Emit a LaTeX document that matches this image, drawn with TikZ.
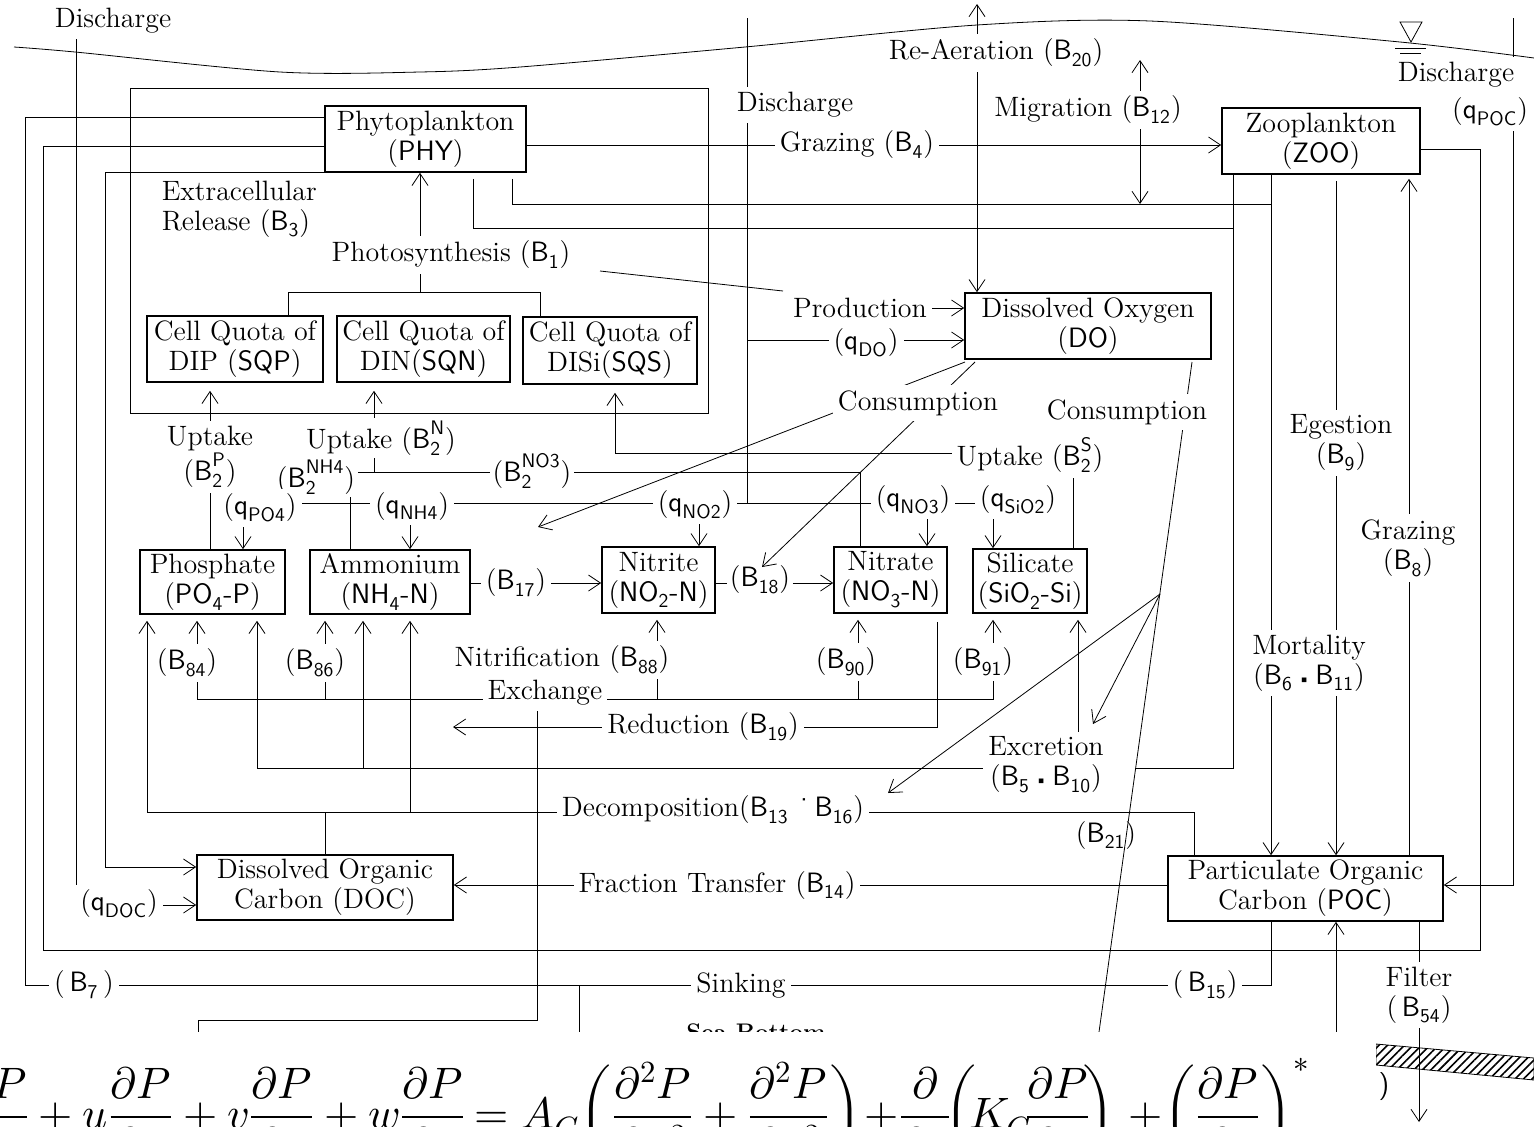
\documentclass[tikz,border=0pt]{standalone}
\usepackage{amsmath}
\usepackage{unicode-math}
\setmathfont{Latin Modern Math}
\usetikzlibrary{arrows.meta,backgrounds,patterns.meta}
\newcommand{\lfs}{\fontsize{14}{15}\selectfont}
\newcommand{\Blab}[1]{(\textsf{B\textsubscript{#1}})}
\newcommand{\Bsup}[2]{($\textsf{B}_{\textsf{#1}}^{\textsf{#2}}$)}
\newcommand{\qlab}[1]{(\textsf{q\textsubscript{#1}})}
\newcommand{\dotb}{\,{\fontsize{8}{8}\selectfont\textbullet}\,}
% name, x1, y1, x2, y2, text
\newcommand{\mkbox}[6]{\node[box, minimum width={(#4-#2)*0.5pt}, minimum height={(#5-#3)*0.5pt}] (#1) at ({(#2+#4)/2},{(#3+#5)/2}) {#6};}
\begin{document}
\begin{tikzpicture}[x=0.5pt,y=-0.5pt, line width=0.8pt,
  every node/.style={font=\lfs},
  box/.style={draw, fill=white, inner sep=0pt, align=center},
  lab/.style={fill=white, inner sep=2.5pt, align=center},
  nolab/.style={inner sep=1pt, align=center},
  eqn/.style={inner sep=0pt, font=\fontsize{22}{26}\selectfont},
  arr/.style={-{Straight Barb[length=6pt,width=8pt]}},
  darr/.style={{Straight Barb[length=6pt,width=8pt]}-{Straight Barb[length=6pt,width=8pt]}}]
\useasboundingbox (0,0) rectangle (1534,1126);

% ---------- boxes ----------
\mkbox{phy}{325}{106}{526}{172}{Phytoplankton\\(\textsf{PHY})}
\mkbox{zoo}{1222}{108}{1420}{174}{Zooplankton\\(\textsf{ZOO})}
\mkbox{sqp}{147}{316}{323}{382}{Cell Quota of\\DIP (\textsf{SQP})}
\mkbox{sqn}{337}{316}{510}{382}{Cell Quota of\\DIN(\textsf{SQN})}
\mkbox{sqs}{523}{317}{697}{384}{Cell Quota of\\DISi(\textsf{SQS})}
\mkbox{do}{965}{293}{1211}{359}{Dissolved Oxygen\\(\textsf{DO})}
\mkbox{po4}{140}{550}{285}{614}{Phosphate\\(\textsf{PO\textsubscript{4}-P})}
\mkbox{nh4}{310}{550}{470}{614}{Ammonium\\(\textsf{NH\textsubscript{4}-N})}
\mkbox{no2}{602}{547}{715}{613}{Nitrite\\(\textsf{NO\textsubscript{2}-N})}
\mkbox{no3}{834}{547}{947}{613}{Nitrate\\(\textsf{NO\textsubscript{3}-N})}
\mkbox{si}{973}{549}{1087}{613}{Silicate\\(\textsf{SiO\textsubscript{2}-Si})}
\mkbox{doc}{197}{855}{453}{920}{Dissolved Organic\\Carbon (DOC)}
\mkbox{poc}{1168}{856}{1443}{921}{Particulate Organic\\Carbon (\textsf{POC})}

% ---------- labels ----------
\node[lab] (disL) at (113,21) {Discharge};
\node[lab] (disM) at (795,105) {Discharge};
\node[lab] (reaer) at (996,53) {Re-Aeration \Blab{20}};
\node[lab] (migr) at (1088,110) {Migration \Blab{12}};
\node[lab] (disR) at (1456,75) {Discharge};
\node[lab] (qpoc) at (1490,112) {\qlab{POC}};
\node[lab] (graz4) at (857,145) {Grazing \Blab{4}};
\node[lab, align=left, anchor=west] (extra) at (156,209) {Extracellular\\Release \Blab{3}};
\node[lab] (photo) at (451,255) {Photosynthesis \Blab{1}};
\node[lab] (prod) at (860,308) {Production};
\node[lab] (qdo) at (866,343) {\qlab{DO}};
\node[lab] (cons1) at (918,403) {Consumption};
\node[lab] (cons2) at (1127,412) {Consumption};
\node[lab] (uptP) at (210,457) {Uptake\\\Bsup{2}{P}};
\node[nolab] (uptN) at (381,438) {Uptake \Bsup{2}{N}};
\node[nolab] (bnh4) at (316,477) {\Bsup{2}{NH4}};
\node[nolab] (bno3) at (532,471) {\Bsup{2}{NO3}};
\node[lab] (uptS) at (1030,455) {Uptake \Bsup{2}{S}};
\node[lab] (qpo4) at (260,508) {\qlab{PO4}};
\node[lab] (qnh4) at (412,506) {\qlab{NH4}};
\node[lab] (qno2) at (695,505) {\qlab{NO2}};
\node[lab] (qno3) at (913,500) {\qlab{NO3}};
\node[lab] (qsio2) at (1018,500) {\qlab{SiO2}};
\node[lab] (b17) at (516,583) {\Blab{17}};
\node[nolab] (b18) at (760,580) {\Blab{18}};
\node[lab] (b84) at (187,663) {\Blab{84}};
\node[lab] (b86) at (315,663) {\Blab{86}};
\node[lab] (nitr) at (562,660) {Nitrification \Blab{88}};
\node[lab] (b90) at (846,662) {\Blab{90}};
\node[lab] (b91) at (983,662) {\Blab{91}};
\node[lab] (exch) at (545,693) {Exchange};
\node[lab] (red) at (703,727) {Reduction \Blab{19}};
\node[lab] (excr) at (1046,765) {Excretion\\(\textsf{B\textsubscript{5}\dotb B\textsubscript{10}})};
\node[lab] (decomp) at (713,810) {Decomposition(\textsf{B\textsubscript{13}\,\raisebox{0.6ex}{\textperiodcentered}B\textsubscript{16}})};
\node[nolab] (b21) at (1106,835) {\Blab{21}};
\node[lab] (frac) at (717,885) {Fraction Transfer \Blab{14}};
\node[lab] (qdoc) at (119,904) {\qlab{DOC}};
\node[lab] (b7) at (84,985) {(\,\textsf{B\textsubscript{7}}\,)};
\node[lab] (sink) at (741,985) {Sinking};
\node[lab] (b15) at (1205,985) {(\,\textsf{B\textsubscript{15}})};
\node[lab] (filter) at (1419,995) {Filter\\(\,\textsf{B\textsubscript{54}})};
\node[lab] (eges) at (1341,443) {Egestion\\\Blab{9}};
\node[lab] (graz8) at (1408,548) {Grazing\\\Blab{8}};
\node[lab] (mort) at (1309,663) {Mortality\\(\textsf{B\textsubscript{6}\dotb B\textsubscript{11}})};
\node[font=\bfseries\fontsize{12}{14}\selectfont, anchor=base] (seab) at (756,1040) {Sea Bottom};
\node[inner sep=0pt] (rpar) at (1384,1086) {\textsf{)}};

% ---------- connectors (behind labels) ----------
\begin{scope}[on background layer]
% water surface
\draw plot[smooth] coordinates {(14,47)(75,52)(280,72)(420,72)(520,67)(745,47)(977,25)(1150,21)(1400,42)(1534,58)};
\draw (1400,22) -- (1422,22) -- (1411,42) -- cycle;
\draw (1395,48) -- (1426,48);
\draw (1400,53) -- (1421,53);
% enclosing rectangle of phytoplankton
\draw (130,88) rectangle (708,413);
% left side loops
\draw[arr] (76,38) |- (doc.west |- 0,905);
\draw (phy.west |- 0,117) -| (25,985) -| (poc.south -| 1271,0);
\draw (zoo.east |- 0,149) -| (1480,950) -| (43,146) -- (phy.west |- 0,146);
\draw[arr] (phy.south west) -| (105,867) -- (doc.west |- 0,867);
\draw (579,985) -- (579,1032);
% grazing, migration, re-aeration
\draw[arr] (phy.east |- 0,145) -- (zoo.west |- 0,145);
\draw[darr] (1140,60) -- (1140,204);
\draw[darr] (977,4) -- (do.north -| 977,0);
% phytoplankton bottom lines
\draw ([yshift=-3pt]phy.south -| 512,0) |- (1271,204);
\draw ([yshift=-3pt]phy.south -| 473,0) |- (1233,228);
\draw[arr] (zoo.south -| 1271,0) -- (poc.north -| 1271,0);
\draw (zoo.south -| 1233,0) -- (1233,768) -- (1136,768);
\draw (983,768) -- (257,768);
\draw[arr, shorten >=3pt] (257,768) -- (po4.south -| 257,0);
\draw[arr, shorten >=3pt] (363,768) -- (nh4.south -| 363,0);
\draw[arr] ([yshift=-3pt]zoo.south -| 1336,0) -- (poc.north -| 1336,0);
\draw[arr, shorten >=2pt] (poc.north -| 1409,0) -- (zoo.south -| 1409,0);
% photosynthesis
\draw[arr] (photo.center -| 420,0) -- (phy.south -| 420,0);
\draw (photo.center -| 420,0) -- (420,292);
\draw (sqp.north -| 288,0) -- (288,292) -- (540,292) -- (sqs.north -| 540,0);
\draw (600,271) -- (783,291);
\draw[arr] (prod.center) -- (do.west |- prod.center);
% discharge in the middle
\draw (747,18) -- (747,503);
\draw[arr] (747,340) -- (do.west |- 0,340);
\draw (qpo4.center |- 0,503) -- (qsio2.center |- 0,503);
\draw[arr] (qpo4.center -| 243,0) -- (po4.north -| 243,0);
\draw[arr] (qnh4.center -| 410,0) -- (nh4.north -| 410,0);
\draw[arr] (qno2.center -| 699,0) -- (no2.north -| 699,0);
\draw[arr] (qno3.center -| 927,0) -- (no3.north -| 927,0);
\draw[arr] (qsio2.center -| 993,0) -- (si.north -| 993,0);
% uptake
\draw[arr, shorten >=4pt] (uptP.center) -- (sqp.south -| uptP.center);
\draw (uptP.center) -- (po4.north -| uptP.center);
\draw[arr, shorten >=4pt] (uptN.north -| 374,0) -- (sqn.south -| 374,0);
\draw (uptN.south -| 374,0) -- (374,472);
\draw (bnh4.east |- 0,472) -- (bno3.west |- 0,472);
\draw (bno3.east |- 0,472) -| (no3.north -| 860,0);
\draw (bnh4.south -| 350,0) -- (nh4.north -| 350,0);
\draw (uptS.center -| 1073,0) -- (si.north -| 1073,0);
\draw[arr, shorten >=4pt] (uptS.center |- 0,453) -| (sqs.south -| 615,0);
% nitrification chain
\draw[arr] (nh4.east |- 0,583) -- (no2.west |- 0,583);
\draw (no2.east |- 0,583) -- (b18.west |- 0,583);
\draw[arr] (b18.east |- 0,583) -- (no3.west |- 0,583);
% exchange with sediment
\draw (b84.center -| 197,0) -- (197,699) -- (993,699) -- (b91.center -| 993,0);
\draw (b86.center -| 325,0) -- (325,699);
\draw (nitr.center -| 657,0) -- (657,699);
\draw (b90.center -| 858,0) -- (858,699);
\draw[arr, shorten >=3pt] (b84.center -| 197,0) -- (po4.south -| 197,0);
\draw[arr, shorten >=3pt] (b86.center -| 325,0) -- (nh4.south -| 325,0);
\draw[arr, shorten >=3pt] (nitr.center -| 657,0) -- (no2.south -| 657,0);
\draw[arr, shorten >=3pt] (b90.center -| 858,0) -- (no3.south -| 858,0);
\draw[arr, shorten >=3pt] (b91.center -| 993,0) -- (si.south -| 993,0);
\draw (exch.center -| 537,0) |- (198,1020) -- (198,1032);
% reduction
\draw[arr] ([yshift=-4pt]no3.south -| 937,0) |- (453,727);
% decomposition
\draw[arr, shorten >=3pt] (poc.north -| 1194,0) |- (147,812) -- (po4.south -| 147,0);
\draw[arr, shorten >=3pt] (410,812) -- (nh4.south -| 410,0);
\draw (325,812) -- (doc.north -| 325,0);
% fraction transfer
\draw[arr] (poc.west |- 0,885) -- (doc.east |- 0,885);
% discharge q_POC
\draw[arr] (1513,18) |- (poc.east |- 0,885);
% oxygen consumption
\draw[arr] (965,362) -- (538,527);
\draw[arr] (975,362) -- (762,567);
\draw (1192,362) -- (1099,1032);
\draw[arr] (1160,594) -- (888,793);
\draw[arr] (1160,594) -- (1093,724);
\draw[arr, shorten >=3pt] (excr.center -| 1078,0) -- (si.south -| 1078,0);
% bottom exchange with POC
\draw[arr] (1336,1032) -- (poc.south -| 1336,0);
% sea bottom hatch and filter
\draw[pattern={Lines[angle=45,distance=3pt,line width=0.8pt]}] (1376,1044) -- (1534,1058) -- (1534,1080) -- (1376,1065) -- cycle;
\draw[arr] (poc.south -| 1419,0) -- (1419,1122);
\end{scope}

% ---------- equation strip ----------
\fill[white] (0,1032) rectangle (1376,1126);
\node[eqn, anchor=base east] (eqL) at (466,1128)
 {$\displaystyle \frac{\partial P}{\partial t}+u\frac{\partial P}{\partial x}+v\frac{\partial P}{\partial y}+w\frac{\partial P}{\partial z}$};
\node[eqn, anchor=base west] (eqR1) at (474,1128)
 {$\displaystyle =A_C\biggl(\frac{\partial^2 P}{\partial x^2}+\frac{\partial^2 P}{\partial y^2}\biggr)$};
\node[eqn, anchor=base west] (eqR2) at (864,1128)
 {$\displaystyle +\frac{\partial}{\partial z}\!\biggl(\!K_C\!\frac{\partial P}{\partial z}\!\biggr)$};
\node[eqn, anchor=base west] (eqR3) at (1128,1128)
 {$\displaystyle +\biggl(\frac{\partial P}{\partial t}\biggr)^{*}$};
\end{tikzpicture}
\end{document}
